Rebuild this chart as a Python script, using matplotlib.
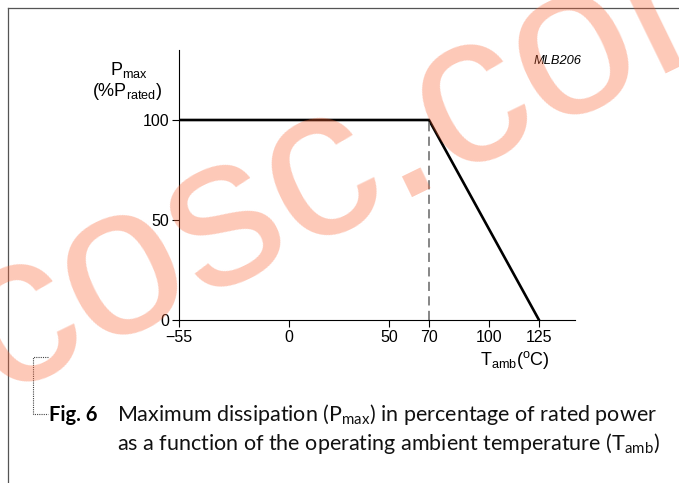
import matplotlib
matplotlib.use("Agg")
import matplotlib.pyplot as plt
from matplotlib.lines import Line2D

plt.rcParams['mathtext.default'] = 'regular'

# derating curve: ambient temperature (degC) vs max dissipation (% of rated)
temp = [-55, 70, 125]
pmax = [100, 100, 0]
knee_temp = 70
xticks = [-55, 0, 50, 70, 100, 125]
xtick_labels = ['\u221255', '0', '50', '70', '100', '125']
yticks = [0, 50, 100]

W, H = 679, 483
fig = plt.figure(figsize=(W / 100, H / 100), dpi=100)

def fx(px):
    return px / W

def fy(py):
    return 1 - py / H

# page frame (top and left rules)
fig.add_artist(Line2D([fx(8), 1], [fy(8), fy(8)], color='#555555', lw=0.9))
fig.add_artist(Line2D([fx(8), fx(8)], [fy(8), 0], color='#555555', lw=0.9))

ax = fig.add_axes([fx(179), fy(320), fx(575) - fx(179), fy(50) - fy(320)])
ax.plot(temp, pmax, color='black', lw=1.9, solid_joinstyle='miter')
ax.plot([knee_temp, knee_temp], [0, 100], color='#666666', lw=1.1, dashes=(6, 3.5))
ax.set_xlim(-55, 143)
ax.set_ylim(0, 135)
for s in ['top', 'right']:
    ax.spines[s].set_visible(False)
for s in ['left', 'bottom']:
    ax.spines[s].set_linewidth(0.8)
ax.set_xticks(xticks)
ax.set_xticklabels(xtick_labels)
ax.set_yticks(yticks)
ax.tick_params(direction='out', length=5, width=0.8, pad=2, labelsize=11.5)
for lbl in ax.get_xticklabels() + ax.get_yticklabels():
    lbl.set_fontfamily('Liberation Sans')

lab = dict(family='Liberation Sans', fontsize=13, ha='center', va='baseline')
fig.text(fx(129), fy(75), r'P$_{max}$', **lab)
fig.text(fx(127), fy(96), r'(%P$_{rated}$)', **lab)
fig.text(fx(515), fy(365), r'T$_{amb}$($^{o}$C)', **lab)
fig.text(fx(558), fy(64), 'MLB206', family='Liberation Sans', style='italic',
         fontsize=9.3, ha='center', va='baseline')

# caption with dotted bracket
fig.add_artist(Line2D([fx(48), fx(33), fx(33), fx(48)],
                      [fy(357), fy(357), fy(414), fy(414)],
                      color='#444444', lw=0.8, ls=(0, (1, 1))))
fig.text(fx(49), fy(421), 'Fig. 6', family='Lato', weight='bold',
         fontsize=14.5, ha='left', va='baseline')
cap = dict(family='Lato', weight='normal', fontsize=15.5, color='#111111',
           ha='left', va='baseline')
fig.text(fx(117), fy(421), r'Maximum dissipation (P$_{max}$) in percentage of rated power', **cap)
fig.text(fx(117), fy(450), r'as a function of the operating ambient temperature (T$_{amb}$)', **cap)

# watermark
fig.text(fx(381), fy(146), 'cosc.com', family='Liberation Sans', fontsize=155,
         color=(0.98, 0.39, 0.2), alpha=0.35, rotation=26, rotation_mode='anchor',
         ha='center', va='center', zorder=10)

fig.savefig('out.png', dpi=100)
